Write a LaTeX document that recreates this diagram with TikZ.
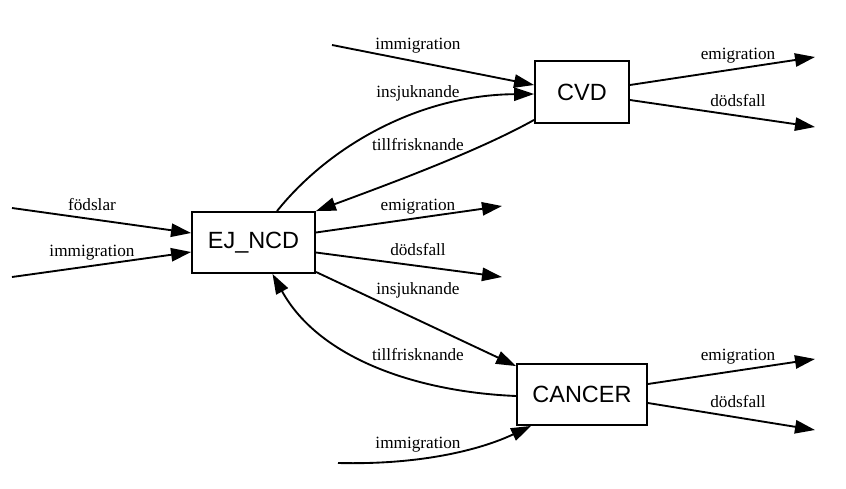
\documentclass[tikz,border=0pt]{standalone}
\usepackage{fontspec}
\setmainfont{Liberation Serif}
\newfontfamily\boxfont{Liberation Sans}
\usetikzlibrary{arrows.meta,calc}
\begin{document}
\begin{tikzpicture}[x=0.75pt,y=-0.75pt,
  box/.style={draw,line width=1.4pt,inner sep=0pt,font=\boxfont\fontsize{17.6}{20}\selectfont},
  lbl/.style={anchor=base,inner sep=0pt,font=\fontsize{12.9}{15}\selectfont},
  flow/.style={line width=1.4pt,-{Triangle[length=15pt,width=10pt]}}]
\useasboundingbox (0,0) rectangle (846,489);
\node[box,minimum width=92.25pt,minimum height=45.75pt] (ej) at (253.5,242.5) {EJ\_NCD};
\node[box,minimum width=70.5pt,minimum height=46.5pt] (cvd) at (582,92) {CVD};
\node[box,minimum width=97.5pt,minimum height=45.75pt] (can) at (582,394.5) {CANCER};
% free ends
\coordinate (f1) at (12,208);
\coordinate (f2) at (12,277);
\coordinate (e1) at (502,206);
\coordinate (e2) at (502,277);
\coordinate (c1) at (332,45);
\coordinate (c2) at (815,57);
\coordinate (c3) at (815,127);
\coordinate (k1) at (338,463);
\coordinate (k2) at (815,359);
\coordinate (k3) at (815,430);
% EJ_NCD
\draw[flow] (f1) -- ($(ej.west)+(0,-9.5)$);
\draw[flow] (f2) -- ($(ej.west)+(0,9.5)$);
\draw[flow] ($(ej.east)+(0,-10)$) -- (e1);
\draw[flow] ($(ej.east)+(0,10)$) -- (e2);
\draw[flow] ($(ej.south east)+(0,-2)$) -- ($(can.north west)+(0,3)$);
\draw[flow] ($(ej.north)+(23.5,0)$) .. controls (330,145) and (420,95) .. ($(cvd.west)+(0,2)$);
\draw[flow] ($(cvd.south west)+(0,-4)$) .. controls (480,150) and (400,180) .. (ej.north east);
\draw[flow] ($(can.west)+(0,1.5)$) .. controls (420,392) and (320,360) .. ($(ej.south)+(19,0)$);
% CVD
\draw[flow] (c1) -- ($(cvd.west)+(0,-7)$);
\draw[flow] ($(cvd.east)+(0,-7)$) -- (c2);
\draw[flow] ($(cvd.east)+(0,8)$) -- (c3);
% CANCER
\draw[flow] (k1) .. controls (420,465) and (480,450) .. ($(can.south west)+(15,0)$);
\draw[flow] ($(can.east)+(0,-10.5)$) -- (k2);
\draw[flow] ($(can.east)+(0,8.5)$) -- (k3);
% labels
\node[lbl] (l1) at (92,210) {födslar};
\node[lbl] (l2) at (92,256) {immigration};
\node[lbl] (l3) at (418,210) {emigration};
\node[lbl] (l4) at (418,255) {dödsfall};
\node[lbl] (l5) at (418,294) {insjuknande};
\node[lbl] (l6) at (418,360) {tillfrisknande};
\node[lbl] (l7) at (418,448) {immigration};
\node[lbl] (l8) at (418,49) {immigration};
\node[lbl] (l9) at (418,97) {insjuknande};
\node[lbl] (l10) at (418,150) {tillfrisknande};
\node[lbl] (l11) at (738,59) {emigration};
\node[lbl] (l12) at (738,106) {dödsfall};
\node[lbl] (l13) at (738,360) {emigration};
\node[lbl] (l14) at (738,407) {dödsfall};
\end{tikzpicture}
\end{document}
